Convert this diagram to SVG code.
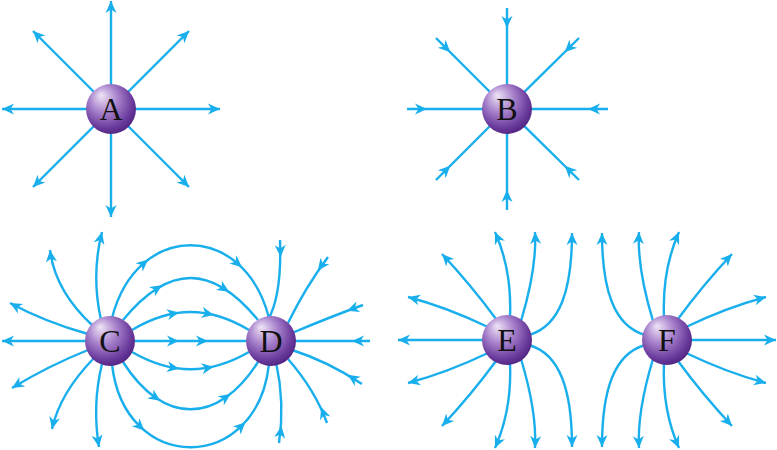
<svg xmlns="http://www.w3.org/2000/svg" width="777" height="450" viewBox="0 0 777 450">
<style>
.ln{fill:none;stroke:#19aeec;stroke-width:2.4}
.e{marker-end:url(#ae)}
.ah{fill:#19aeec}
.ball{fill:url(#ball)}
.lbl{font-family:"Liberation Serif","DejaVu Serif",serif;font-size:32px;text-anchor:middle;fill:#111}
</style>
<defs>
<radialGradient id="ball" cx="0.42" cy="0.38" r="0.62" fx="0.3" fy="0.22">
<stop offset="0" stop-color="#efe4f6"/>
<stop offset="0.45" stop-color="#a883cc"/>
<stop offset="0.85" stop-color="#6a3a9c"/>
<stop offset="1" stop-color="#552886"/>
</radialGradient>
<marker id="ae" viewBox="-13 -7 14 14" refX="0" refY="0" markerWidth="14" markerHeight="14" orient="auto" markerUnits="userSpaceOnUse">
<path class="ah" d="M0,0 L-12,-5.5 L-8.5,0 L-12,5.5 Z"/>
</marker>
<path id="am" class="ah" d="M6,0 L-6,-5.5 L-2.5,0 L-6,5.5 Z"/>
</defs>

<g id="connectors">
<g id="field-A">
<path class="ln e" d="M111,109 L111,1"/>
<path class="ln e" d="M111,109 L111,217"/>
<path class="ln e" d="M111,109 L2,109"/>
<path class="ln e" d="M111,109 L220,109"/>
<path class="ln e" d="M111,109 L33,31"/>
<path class="ln e" d="M111,109 L189,31"/>
<path class="ln e" d="M111,109 L33,187"/>
<path class="ln e" d="M111,109 L189,187"/>
</g>
<g id="field-B">
<path class="ln" d="M507,8 L507,109"/>
<path class="ln" d="M507,210 L507,109"/>
<path class="ln" d="M407,109 L507,109"/>
<path class="ln" d="M608,109 L507,109"/>
<path class="ln" d="M436,38 L507,109"/>
<path class="ln" d="M579,38 L507,109"/>
<path class="ln" d="M436,180 L507,109"/>
<path class="ln" d="M579,180 L507,109"/>
<use href="#am" transform="translate(507,22) rotate(90)"/>
<use href="#am" transform="translate(507,196) rotate(-90)"/>
<use href="#am" transform="translate(421,109)"/>
<use href="#am" transform="translate(594,109) rotate(180)"/>
<use href="#am" transform="translate(446,48) rotate(45)"/>
<use href="#am" transform="translate(569,48) rotate(135)"/>
<use href="#am" transform="translate(446,170) rotate(-45)"/>
<use href="#am" transform="translate(569,170) rotate(-135)"/>
</g>
<g id="field-CD">
<path class="ln e" d="M88,341 L2,341"/>
<path class="ln e" d="M88,334 Q45,322 10,303"/>
<path class="ln e" d="M93,326 Q55,291 50,250"/>
<path class="ln e" d="M101,320 Q91,275 102,232"/>
<path class="ln e" d="M88,350 Q48,366 12,388"/>
<path class="ln e" d="M94,358 Q60,393 52,429"/>
<path class="ln e" d="M102,364 Q92,405 99,447"/>

<path class="ln" d="M112,318 C137,221 244,221 269,318"/>
<path class="ln" d="M123,320 C169,264 212,264 258,320"/>
<path class="ln" d="M132,330 C172,306 209,306 249,330"/>
<path class="ln" d="M135,341 L246,341"/>
<path class="ln" d="M132,352 C172,375 209,375 249,352"/>
<path class="ln" d="M123,362 C163,425 218,425 258,362"/>
<path class="ln" d="M112,364 C124,475 257,475 269,364"/>
<use href="#am" transform="translate(143.6,263.4) rotate(-41)"/>
<use href="#am" transform="translate(237.4,263.4) rotate(41)"/>
<use href="#am" transform="translate(157,288.5) rotate(-32)"/>
<use href="#am" transform="translate(224,288.5) rotate(32)"/>
<use href="#am" transform="translate(173.2,313.6) rotate(-10.6)"/>
<use href="#am" transform="translate(207.8,313.6) rotate(10.6)"/>
<use href="#am" transform="translate(173,341)"/>
<use href="#am" transform="translate(202,341)"/>
<use href="#am" transform="translate(173.2,367.7) rotate(10)"/>
<use href="#am" transform="translate(207.8,367.7) rotate(-10)"/>
<use href="#am" transform="translate(155.3,397.4) rotate(34.6)"/>
<use href="#am" transform="translate(225.7,397.4) rotate(-34.6)"/>
<use href="#am" transform="translate(139.9,426.4) rotate(44)"/>
<use href="#am" transform="translate(241.1,426.4) rotate(-44)"/>

<path class="ln" d="M370,341 L294,341"/>
<path class="ln" d="M363,305 Q330,317 292,333"/>
<path class="ln" d="M328,257 Q305,288 288,323"/>
<path class="ln" d="M280,240 Q282,295 268,320"/>
<path class="ln" d="M362,384 Q327,361 292,350"/>
<path class="ln" d="M327,423 Q315,390 288,359"/>
<path class="ln" d="M279,443 Q285,403 276,362"/>
<use href="#am" transform="translate(358,341) rotate(180)"/>
<use href="#am" transform="translate(352.7,308.8) rotate(160)"/>
<use href="#am" transform="translate(321.4,265.8) rotate(126.6)"/>
<use href="#am" transform="translate(280.4,251) rotate(88)"/>
<use href="#am" transform="translate(352.8,378) rotate(-146.7)"/>
<use href="#am" transform="translate(323.2,412.7) rotate(-110)"/>
<use href="#am" transform="translate(280.6,432) rotate(-81.5)"/>
</g>
<g id="field-EF">
<path class="ln e" d="M485,340 L398,340"/>
<path class="ln e" d="M488,327 Q446,307 408,297"/>
<path class="ln e" d="M496,319 Q471,285 442,254"/>
<path class="ln e" d="M510,317 Q512,270 495,232"/>
<path class="ln e" d="M521,321 Q537,268 535,232"/>
<path class="ln e" d="M529,335 C560,326 572,290 572,233"/>
<path class="ln e" d="M488,353 Q446,373 408,383"/>
<path class="ln e" d="M496,361 Q471,395 442,426"/>
<path class="ln e" d="M510,363 Q512,410 495,448"/>
<path class="ln e" d="M521,359 Q537,412 535,448"/>
<path class="ln e" d="M529,345 C560,354 572,390 572,447"/>

<path class="ln e" d="M689,340 L776,340"/>
<path class="ln e" d="M686,327 Q728,307 766,297"/>
<path class="ln e" d="M678,319 Q703,285 732,254"/>
<path class="ln e" d="M664,317 Q662,270 679,232"/>
<path class="ln e" d="M653,321 Q637,268 639,232"/>
<path class="ln e" d="M645,335 C614,326 602,290 602,233"/>
<path class="ln e" d="M686,353 Q728,373 766,383"/>
<path class="ln e" d="M678,361 Q703,395 732,426"/>
<path class="ln e" d="M664,363 Q662,410 679,448"/>
<path class="ln e" d="M653,359 Q637,412 639,448"/>
<path class="ln e" d="M645,345 C614,354 602,390 602,447"/>
</g>
</g>

<g id="A"><circle class="ball" cx="111" cy="109" r="25"/><text class="lbl" x="111" y="120">A</text></g>
<g id="B"><circle class="ball" cx="507" cy="109" r="25"/><text class="lbl" x="507" y="120">B</text></g>
<g id="C"><circle class="ball" cx="110" cy="341" r="25"/><text class="lbl" x="110" y="352">C</text></g>
<g id="D"><circle class="ball" cx="271" cy="341" r="25"/><text class="lbl" x="271" y="352">D</text></g>
<g id="E"><circle class="ball" cx="507" cy="340" r="25"/><text class="lbl" x="507" y="351">E</text></g>
<g id="F"><circle class="ball" cx="667" cy="340" r="25"/><text class="lbl" x="667" y="351">F</text></g>
</svg>
